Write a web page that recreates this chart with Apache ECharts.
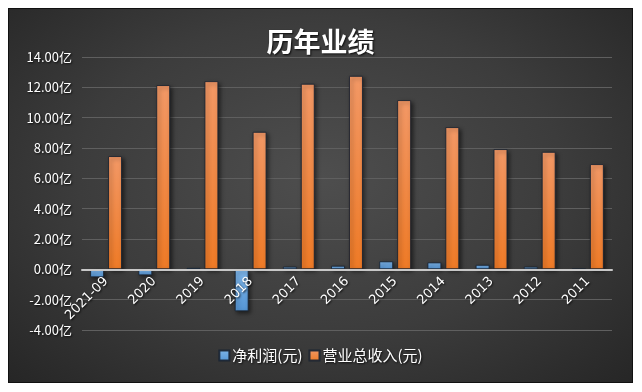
<!DOCTYPE html>
<html><head><meta charset="utf-8">
<script src="https://cdn.jsdelivr.net/npm/echarts@6/dist/echarts.min.js"></script>
<style>
html,body{margin:0;padding:0;background:#fff;width:642px;height:392px;overflow:hidden}
#c{position:absolute;left:8px;top:8px;width:623px;height:373px;border:1px solid #111;
background:radial-gradient(ellipse at 50% 45%, #4e4e4e 0%, #3c3c3c 55%, #262626 100%);}
</style></head><body>
<div id="c"></div>
<script>
const title = '历年业绩';
const categories = ['2021-09','2020','2019','2018','2017','2016','2015','2014','2013','2012','2011'];
const netProfit = [-0.53,-0.40,0.10,-2.77,0.18,0.24,0.53,0.46,0.30,0.18,0.03];
const revenue = [7.47,12.15,12.41,9.07,12.24,12.76,11.16,9.38,7.93,7.75,6.94];
const seriesNames = ['净利润(元)','营业总收入(元)'];
const yTicks = {min:-4,max:14,interval:2};

const font = '"Noto Sans CJK SC","Noto Sans",sans-serif';
const gridH = 273;
const zeroOffset = -gridH * (0 - yTicks.min) / (yTicks.max - yTicks.min);
const chart = echarts.init(document.getElementById('c'), null, {renderer:'canvas'});
const grad = (a,b)=>new echarts.graphic.LinearGradient(0,0,0,1,[{offset:0,color:a},{offset:1,color:b}]);
const txtShadow = {textShadowColor:'rgba(0,0,0,0.8)',textShadowBlur:2,textShadowOffsetX:1,textShadowOffsetY:1};
chart.setOption({
  animation:false,
  title:{text:title,left:'center',top:14,textStyle:Object.assign({color:'#fff',fontSize:27,fontWeight:'bold',fontFamily:font},txtShadow)},
  grid:{left:73,top:48,width:530,height:gridH,containLabel:false},
  legend:{bottom:14,left:'center',itemWidth:10,itemHeight:10,itemGap:6,icon:'rect',
    textStyle:Object.assign({color:'#fff',fontSize:15,fontFamily:font,padding:[0,0,0,-2]},txtShadow)},
  xAxis:{type:'category',data:categories,position:'bottom',offset:zeroOffset,z:10,
    axisLine:{onZero:false,lineStyle:{color:'#c8c8c8',width:2}},
    axisTick:{show:false},
    axisLabel:Object.assign({color:'#fff',fontSize:13,rotate:45,margin:10,fontFamily:'"DejaVu Sans",sans-serif',interval:0},txtShadow)},
  yAxis:{type:'value',min:yTicks.min,max:yTicks.max,interval:yTicks.interval,
    axisLine:{show:false},axisTick:{show:false},
    splitLine:{lineStyle:{color:'#5f5f5f',width:1}},
    axisLabel:Object.assign({color:'#fff',fontSize:13,margin:10,fontFamily:font,formatter:v=>v.toFixed(2)+'亿'},txtShadow)},
  series:[
    {name:seriesNames[0],type:'bar',data:netProfit,barWidth:14,barGap:'28%',
      itemStyle:{color:grad('#7db4e8','#5596d6'),borderColor:'rgba(25,35,50,0.9)',borderWidth:1,
        shadowColor:'rgba(0,0,0,0.5)',shadowBlur:4,shadowOffsetX:2,shadowOffsetY:2}},
    {name:seriesNames[1],type:'bar',data:revenue,barWidth:14,barGap:'28%',
      itemStyle:{color:grad('#f29866','#ee7a26'),borderColor:'rgba(25,35,50,0.9)',borderWidth:1,
        shadowColor:'rgba(0,0,0,0.5)',shadowBlur:4,shadowOffsetX:2,shadowOffsetY:2}}
  ]
});
</script></body></html>
